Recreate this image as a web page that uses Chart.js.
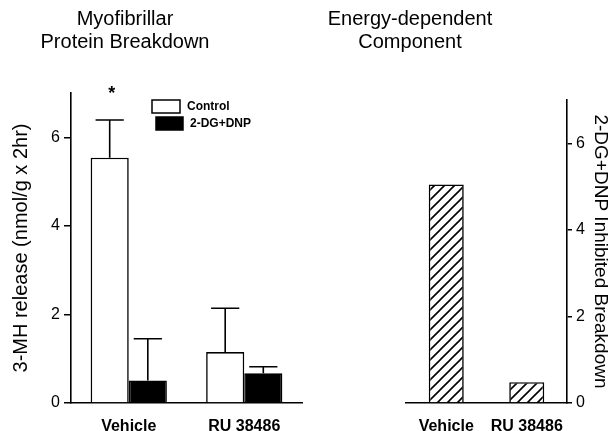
<!DOCTYPE html>
<html>
<head>
<meta charset="utf-8">
<script src="https://cdn.jsdelivr.net/npm/chart.js@4"></script>
<style>
  body { margin: 0; background: #fff; }
  #wrap { position: relative; width: 609px; height: 431px; background: #fff; }
  canvas { position: absolute; top: 0; }
</style>
</head>
<body>
<div id="wrap">
  <canvas id="breakdownChart" width="320" height="431" style="left:0"></canvas>
  <canvas id="energyChart" width="289" height="431" style="left:320px"></canvas>
</div>
<script>
// data
const categories = ['Vehicle', 'RU 38486'];
const controlMeans = [5.54, 1.15];
const controlErr = [0.85, 0.99];
const controlMarks = ['*', ''];
const dgDnpMeans = [0.51, 0.67];
const dgDnpErr = [0.94, 0.15];
const inhibited = [5.05, 0.48];

const FONT = 'Liberation Sans, Arial, Helvetica, sans-serif';
Chart.defaults.font.family = FONT;
Chart.defaults.color = '#000';

// "/" hatch for the right panel
function makeHatch() {
  const c = document.createElement('canvas');
  c.width = 10; c.height = 10;
  const g = c.getContext('2d');
  g.fillStyle = '#fff';
  g.fillRect(0, 0, 10, 10);
  g.strokeStyle = '#000';
  g.lineWidth = 1.6;
  g.beginPath();
  g.moveTo(0, 10); g.lineTo(10, 0);
  g.moveTo(-1, 1); g.lineTo(1, -1);
  g.moveTo(9, 11); g.lineTo(11, 9);
  g.stroke();
  return g.createPattern(c, 'repeat');
}

// two-line panel headings
const panelTitle = {
  id: 'panelTitle',
  afterDraw(chart, args, opts) {
    const ctx = chart.ctx;
    ctx.save();
    ctx.fillStyle = '#000';
    ctx.font = '20px ' + FONT;
    ctx.textAlign = 'center';
    ctx.textBaseline = 'middle';
    opts.lines.forEach((t, i) => ctx.fillText(t, opts.x, opts.y + i * 23));
    ctx.restore();
  }
};

// upper error bars (+ significance mark)
const errorBars = {
  id: 'errorBars',
  afterDatasetsDraw(chart) {
    const ctx = chart.ctx;
    const y = chart.scales.y;
    chart.data.datasets.forEach((ds, i) => {
      if (!ds.errors) return;
      const meta = chart.getDatasetMeta(i);
      meta.data.forEach((bar, j) => {
        const top = y.getPixelForValue(ds.data[j] + ds.errors[j]);
        const half = bar.width * 0.37;
        ctx.save();
        ctx.strokeStyle = '#000';
        ctx.lineWidth = 1.6;
        ctx.beginPath();
        ctx.moveTo(bar.x, bar.y);
        ctx.lineTo(bar.x, top);
        ctx.moveTo(bar.x - half, top);
        ctx.lineTo(bar.x + half, top);
        ctx.stroke();
        if (ds.marks && ds.marks[j]) {
          ctx.fillStyle = '#000';
          ctx.font = 'bold 18px ' + FONT;
          ctx.textAlign = 'center';
          ctx.textBaseline = 'middle';
          ctx.fillText(ds.marks[j], bar.x + 2, top - 26);
        }
        ctx.restore();
      });
    });
  }
};

// legend boxes inside the plot, top right
const boxLegend = {
  id: 'boxLegend',
  afterDraw(chart) {
    const ctx = chart.ctx;
    const a = chart.chartArea;
    const items = [
      { x: a.left + 81, y: a.top + 7, w: 28, fill: '#fff', text: chart.data.datasets[0].label },
      { x: a.left + 85, y: a.top + 24, w: 27, fill: '#000', text: chart.data.datasets[1].label }
    ];
    ctx.save();
    items.forEach(it => {
      ctx.fillStyle = it.fill;
      ctx.fillRect(it.x, it.y, it.w, 13);
      ctx.strokeStyle = '#000';
      ctx.lineWidth = 1.5;
      ctx.strokeRect(it.x, it.y, it.w, 13);
      ctx.fillStyle = '#000';
      ctx.font = 'bold 12px ' + FONT;
      ctx.textAlign = 'left';
      ctx.textBaseline = 'middle';
      ctx.fillText(it.text, it.x + it.w + 7, it.y + 6.5);
    });
    ctx.restore();
  }
};

const xAxis = {
  ticks: { font: { size: 16, weight: 'bold' }, color: '#000', padding: 6, maxRotation: 0 },
  grid: { display: false },
  border: { display: true, color: '#000', width: 1.6 },
  afterFit: s => { s.height = 28; }
};

new Chart(document.getElementById('breakdownChart'), {
  type: 'bar',
  data: {
    labels: categories,
    datasets: [
      {
        label: 'Control',
        data: controlMeans,
        errors: controlErr,
        marks: controlMarks,
        backgroundColor: '#fff',
        borderColor: '#000',
        borderWidth: 1.6
      },
      {
        label: '2-DG+DNP',
        data: dgDnpMeans,
        errors: dgDnpErr,
        backgroundColor: '#000',
        borderColor: '#000',
        borderWidth: 1.6
      }
    ]
  },
  options: {
    responsive: false,
    animation: false,
    devicePixelRatio: 1,
    layout: { padding: { top: 93, right: 18, left: 0, bottom: 0 } },
    datasets: { bar: { categoryPercentage: 0.66, barPercentage: 1.0 } },
    plugins: {
      legend: { display: false },
      tooltip: { enabled: false },
      panelTitle: { lines: ['Myofibrillar', 'Protein Breakdown'], x: 125, y: 19 }
    },
    scales: {
      x: xAxis,
      y: {
        min: 0,
        max: 7,
        ticks: { stepSize: 2, includeBounds: false, font: { size: 16 }, color: '#000', padding: 4 },
        grid: { display: true, drawOnChartArea: false, drawTicks: true, tickLength: 7, color: '#000', lineWidth: 1.5 },
        border: { display: true, color: '#000', width: 1.6 },
        title: { display: true, text: '3-MH release (nmol/g x 2hr)', font: { size: 20 }, color: '#000', padding: { top: 9, bottom: 0 } },
        afterFit: s => { s.width = 71; }
      }
    }
  },
  plugins: [panelTitle, errorBars, boxLegend]
});

new Chart(document.getElementById('energyChart'), {
  type: 'bar',
  data: {
    labels: categories,
    datasets: [
      {
        label: '2-DG+DNP Inhibited Breakdown',
        data: inhibited,
        backgroundColor: makeHatch(),
        borderColor: '#000',
        borderWidth: 1.6
      }
    ]
  },
  options: {
    responsive: false,
    animation: false,
    devicePixelRatio: 1,
    layout: { padding: { top: 100, right: 0, left: 86, bottom: 0 } },
    datasets: { bar: { categoryPercentage: 0.435, barPercentage: 1.0 } },
    plugins: {
      legend: { display: false },
      tooltip: { enabled: false },
      panelTitle: { lines: ['Energy-dependent', 'Component'], x: 90, y: 19 }
    },
    scales: {
      x: xAxis,
      y: {
        position: 'right',
        min: 0,
        max: 7,
        ticks: { stepSize: 2, includeBounds: false, font: { size: 16 }, color: '#000', padding: 4 },
        grid: { display: true, drawOnChartArea: false, drawTicks: true, tickLength: 5, color: '#000', lineWidth: 1.5 },
        border: { display: true, color: '#000', width: 1.6 },
        title: { display: true, text: '2-DG+DNP Inhibited Breakdown', font: { size: 19, lineHeight: 0.95 }, color: '#000', padding: { top: 0, bottom: 0 } },
        afterFit: s => { s.width = 42; }
      }
    }
  },
  plugins: [panelTitle]
});
</script>
</body>
</html>
